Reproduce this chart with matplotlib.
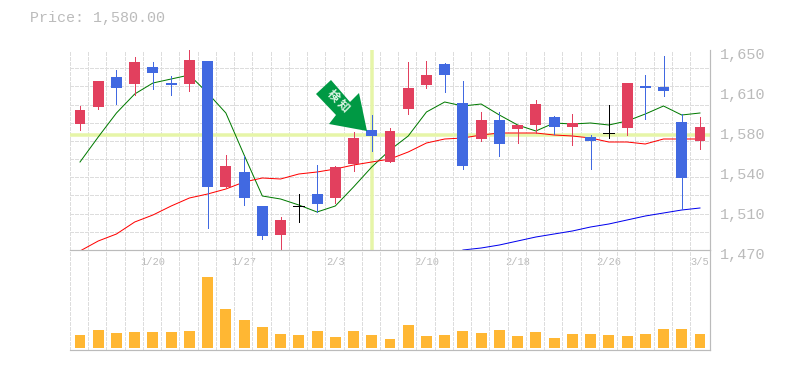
import numpy as np
import matplotlib
matplotlib.use("Agg")
import matplotlib.pyplot as plt
from matplotlib.patches import Polygon
from matplotlib.transforms import ScaledTranslation, Affine2D

title = "Price: 1,580.00"
highs = [1599.6,1622.1,1632,1643.7,1639.2,1626.6,1650,1640.1,1555.5,1554.6,1509.6,1499.7,1520.4,1546.5,1545.6,1576.2,1591.5,1579.8,1639.2,1640.1,1638.3,1622.1,1594.2,1594.2,1582.5,1605,1590.6,1592.4,1573.5,1600.5,1620.3,1627.5,1644.6,1592.4,1589.7]
lows = [1578,1596.9,1601.4,1609.5,1614.9,1609.5,1613.1,1489.8,1526.7,1510.5,1479.9,1470,1495.2,1504.2,1512.3,1541.1,1559.1,1549.2,1592.4,1615.8,1612.2,1542.9,1568.1,1554.6,1566.3,1575.3,1574.4,1564.5,1542.9,1570.8,1573.5,1587.9,1608.6,1506.9,1560.9]
opens = [1583.4,1598.7,1625.7,1619.4,1634.7,1620.3,1619.4,1640.1,1526.7,1540.2,1509.6,1483.5,1509.6,1520.4,1516.8,1547.4,1578,1549.2,1596.9,1618.5,1637.4,1602.3,1569.9,1587,1578.9,1582.5,1589.7,1580.7,1571.7,1575.3,1579.8,1617.6,1616.7,1585.2,1568.1]
closes = [1596,1622.1,1615.8,1639.2,1629.3,1618.5,1641,1526.7,1545.6,1516.8,1482.6,1497,1509.6,1511.4,1544.7,1570.8,1572.6,1577.1,1615.8,1627.5,1627.5,1545.6,1587,1565.4,1582.5,1601.4,1580.7,1584.3,1568.1,1575.3,1620.3,1615.8,1613.1,1534.8,1580.7]
ma_short = [1549.2,1571.7,1593.3,1610.4,1620.3,1623.9,1627.5,1611.3,1593.3,1555.5,1518.6,1515.9,1510.5,1504.2,1509.6,1526.7,1544.7,1560,1572.6,1594.2,1603.2,1599.6,1601.4,1591.5,1582.5,1577.1,1584.3,1583.4,1584.3,1582.5,1586.1,1592.4,1599.6,1591.5,1593.3]
ma_mid = [1469.1,1478.1,1484.4,1495.2,1501.5,1509.6,1516.8,1520.4,1524.9,1531.2,1534.8,1533.9,1538.4,1540.2,1542.9,1546.5,1549.2,1551.9,1558.2,1566.3,1569.9,1570.8,1573.5,1575.3,1575.3,1575.3,1573.5,1572.6,1570.8,1567.2,1567.2,1565.4,1569.9,1569.9,1569.9]
ma_long = [np.nan]*21 + [1470,1471.8,1474.5,1478.1,1481.7,1484.4,1487.1,1490.7,1493.4,1497,1500.6,1503.3,1506,1507.8]
volumes = [13,18,15,16,16,16,17,71,39,28,21,14,13,17,11,17,13,9,23,12,13,17,15,18,12,16,10,14,14,13,12,14,19,19,14]
date_idx = [4,9,14,19,24,29,34]
date_labels = ["1/20","1/27","2/3","2/10","2/18","2/26","3/5"]
price_ticks = [1470,1506,1542,1578,1614,1650]
price_labels = ["1,470","1,510","1,540","1,580","1,610","1,650"]
cross_idx = 16
cross_price = 1573.5

W, H = 785, 370
RED, BLUE, GRID, AX = "#E2405E", "#4169E1", "#DDDDDD", "#BBBBBB"
MONO = "Liberation Mono"
px = 72/100
thin = 0.95*px
fig = plt.figure(figsize=(W/100, H/100), dpi=100, facecolor="white")
ax = fig.add_axes([70/W, 1-250/H, 640/W, 200/H])
vol = fig.add_axes([70/W, 1-350/H, 640/W, 100/H])
xl = (-0.548, 34.55)
n = len(closes)
x = np.arange(n)
grid_x = np.arange(n) - 0.548
for a in (ax, vol):
    a.set_xlim(*xl)
    a.set_xticks(grid_x, minor=True)
    a.grid(True, which="minor", axis="x", color=GRID, lw=1*px, ls=(0, (3, 2)), zorder=0, antialiased=False)
    a.tick_params(which="minor", length=0)
    a.set_axisbelow(True)
    a.spines["left"].set_visible(False)
    a.spines["top"].set_visible(False)
    for s in ("right", "bottom", "top"):
        a.spines[s].set_color(AX)
        a.spines[s].set_linewidth(1.2*px)
vol.spines["top"].set_visible(True)
ax.spines["bottom"].set_visible(False)

ax.set_ylim(1470, 1650)
ax.set_yticks(np.linspace(1470, 1650, 12), minor=True)
ax.grid(True, which="minor", axis="y", color=GRID, lw=1*px, ls=(0, (3, 2)), zorder=0, antialiased=False)
ax.set_xticks([])
ax.yaxis.tick_right()
ax.set_yticks(price_ticks, price_labels)
ax.tick_params(axis="y", which="major", length=0, pad=7, labelsize=11, labelcolor=AX)
ax.tick_params(axis="y", which="minor", length=0)
off = ScaledTranslation(0, -3/100, fig.dpi_scale_trans)
for t in ax.get_yticklabels():
    t.set_fontfamily(MONO)
    t.set_transform(t.get_transform() + off)

ax.axhline(cross_price, color="#E6F5A8", lw=3.5*px, zorder=1)
ax.axvline(x[cross_idx], color="#E6F5A8", lw=3.5*px, zorder=1)

for ser, col in ((ma_short, "#007A00"), (ma_mid, "#FF0000"), (ma_long, "#0000EE")):
    ax.plot(x, ser, color=col, lw=1.0*px, zorder=2)

for i in range(n):
    c = RED if closes[i] > opens[i] else BLUE if closes[i] < opens[i] else "black"
    ax.plot([i, i], [lows[i], highs[i]], color=c, lw=thin, zorder=3, solid_capstyle="butt", clip_on=False, antialiased=False)
    if c == "black":
        ax.plot([i-0.3, i+0.3], [opens[i], opens[i]], color=c, lw=thin, zorder=3, solid_capstyle="butt", antialiased=False)
    else:
        ax.bar(i, abs(closes[i]-opens[i]), bottom=min(opens[i], closes[i]), width=0.6, color=c, zorder=4)

vol.bar(x, volumes, width=0.6, color="#FFB733", zorder=3)
vol.set_ylim(-2, 98)
vol.set_yticks([])
vol.xaxis.tick_top()
vol.set_xticks(date_idx, date_labels)
vol.tick_params(axis="x", which="major", length=0, pad=-12, labelsize=7.5, labelcolor=AX)
for t in vol.get_xticklabels():
    t.set_fontfamily(MONO)

fig.text(30/W, 1-18/H, title, family=MONO, fontsize=10.8, color=AX, va="center", ha="left")

# annotation arrow, placed in figure pixels
to_fig = Affine2D().scale(1/W, -1/H).translate(0, 1) + fig.transFigure
arrow = [(331,80),(316,94),(336,115),(329,124),(367,131),(359,93),(350,102)]
fig.add_artist(Polygon(arrow, closed=True, facecolor="#009944", edgecolor="none", transform=to_fig, zorder=6))
for ch, cx, cy in (("検", 333, 96), ("知", 343, 106)):
    fig.text(cx/W, 1-cy/H, ch, family=["Noto Sans CJK JP", "DejaVu Sans"], fontsize=8.5, fontweight="bold",
             color="#DDF5E4", rotation=-45, ha="center", va="center", zorder=7, rotation_mode="anchor")

fig.savefig("out.png", dpi=100, facecolor="white")
